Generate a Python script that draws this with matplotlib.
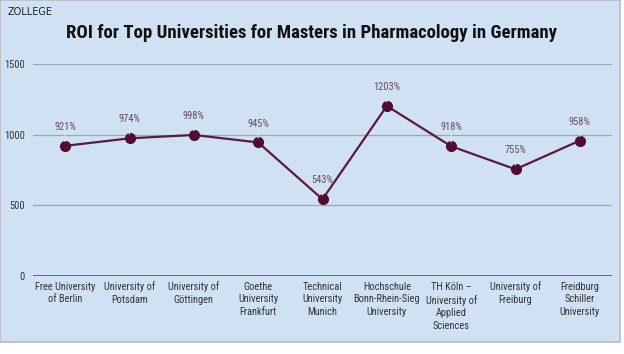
import matplotlib.pyplot as plt
from matplotlib.patches import Rectangle

# dane z wykresu
universities = [
    "Free University\nof Berlin",
    "University of\nPotsdam",
    "University of\nGöttingen",
    "Goethe\nUniversity\nFrankfurt",
    "Technical\nUniversity\nMunich",
    "Hochschule\nBonn-Rhein-Sieg\nUniversity",
    "TH Köln –\nUniversity of\nApplied\nSciences",
    "University of\nFreiburg",
    "Freidburg\nSchiller\nUniversity",
]
roi = [921, 974, 998, 945, 543, 1203, 918, 755, 958]
y_ticks = [0, 500, 1000, 1500]

bg = "#cfe1f3"
line_color = "#5b1a3c"
label_color = "#6a4a66"
narrow = ["Roboto Condensed", "DejaVu Sans"]

fig = plt.figure(figsize=(6.24, 3.54), dpi=100)
fig.patch.set_facecolor("white")
fig.patches.append(Rectangle((0, 1 - 342 / 354), 620 / 624, 342 / 354,
                             transform=fig.transFigure, facecolor=bg,
                             edgecolor="#b8bcc2", linewidth=1.2, zorder=-10))

ax = fig.add_axes([33 / 624, 1 - 276 / 354, 579 / 624, 212 / 354])
ax.patch.set_alpha(0)

x = list(range(len(roi)))
ax.plot(x, roi, color=line_color, linewidth=1.6, marker="o",
        markersize=7, markerfacecolor="#4f0d2f", markeredgecolor="#4f0d2f", zorder=3)

for xi, v in zip(x, roi):
    ax.annotate(f"{v}%", xy=(xi, v), xytext=(0, 10), textcoords="offset points",
                ha="center", va="bottom", fontsize=7.5, color=label_color,
                family=narrow,
                arrowprops=dict(arrowstyle="-", color="#e3e8ee", linewidth=0.8,
                                shrinkA=0, shrinkB=3))

ax.set_xlim(-0.5, len(roi) - 0.5)
ax.set_ylim(0, 1500)
ax.set_yticks(y_ticks)
ax.set_yticklabels([str(t) for t in y_ticks], family=narrow, fontsize=7.5, color="#333333")
ax.set_xticks(x)
ax.set_xticklabels(universities, family=narrow, fontsize=7.5, color="#333333",
                   linespacing=1.35)
ax.tick_params(axis="both", length=0, pad=4)
ax.tick_params(axis="y", pad=6)
ax.yaxis.grid(True, color="#9aa7b2", linewidth=0.9)
ax.set_axisbelow(True)
for s in ax.spines.values():
    s.set_visible(False)
ax.axhline(0, color="#555a60", linewidth=1.2, zorder=2)

fig.text(0.5, 1 - 33 / 354, "ROI for Top Universities for Masters in Pharmacology in Germany",
         ha="center", va="center", fontsize=13.5, fontweight="bold", family=narrow,
         color="#111111")
fig.text(8 / 624, 1 - 12 / 354, "ZOLLEGE", ha="left", va="center", fontsize=7,
         color="#222222", family="DejaVu Sans")

fig.savefig("out.png", dpi=100)
